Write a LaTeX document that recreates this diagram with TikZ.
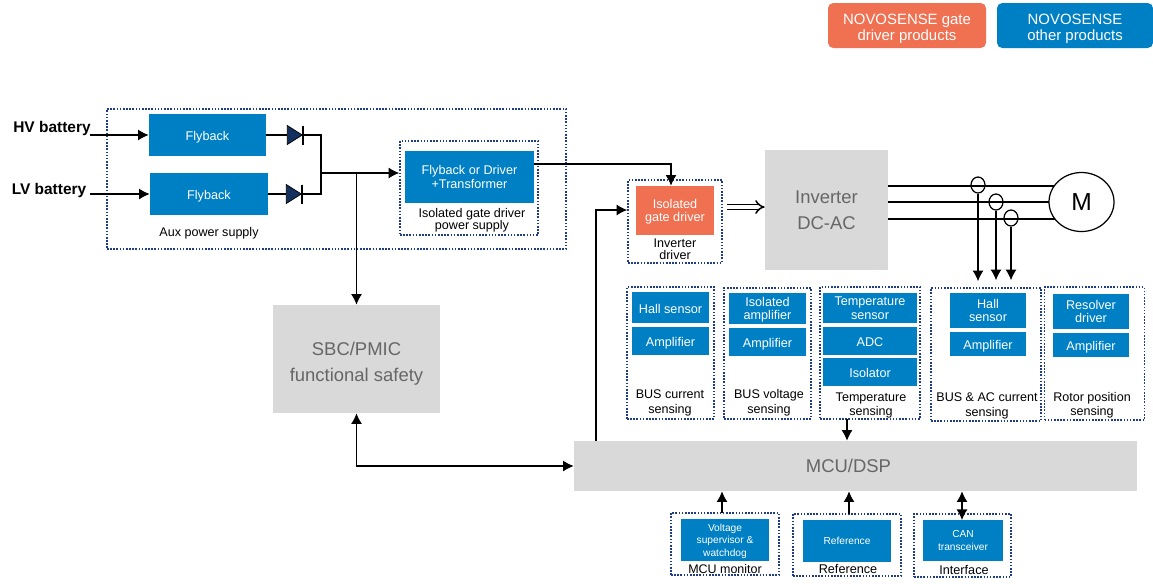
\documentclass[tikz,border=0pt]{standalone}
\usepackage{fontspec}
\setmainfont{Liberation Sans}
\usetikzlibrary{arrows.meta,positioning,shapes.geometric}

\begin{document}
\begin{tikzpicture}[x=0.02cm,y=-0.02cm,>={Latex[length=6pt,width=6.2pt]},every node/.append style={align=center,inner sep=0pt,text depth=0pt},wh/.style 2 args={minimum width=#1*0.02cm,minimum height=#2*0.02cm},wire/.style={line width=0.6pt},tiny/.style={fill=novoblue,text=white,font=\fontsize{5.8}{7.2}\selectfont},blk/.style={fill=novoblue,text=white,font=\fontsize{7.2}{7.8}\selectfont,execute at begin node={\rule{0pt}{6.4pt}}},drv/.style={fill=novoorange,text=white,font=\fontsize{7.2}{7.8}\selectfont},grp/.style={draw=novonavy,dash pattern=on 0.9pt off 0.9pt,line width=0.9pt},lbl/.style={font=\fontsize{7.15}{8.1}\selectfont},big/.style={fill=novogray,text=novotext,font=\fontsize{10.5}{14.8}\selectfont},legend/.style={rounded corners=3pt,text=white,font=\fontsize{8.5}{9.1}\selectfont,text height=17pt},diode/.style={isosceles triangle,isosceles triangle apex angle=60,isosceles triangle stretches,fill=novodark,draw=black,line width=0.4pt,minimum height=15*0.02cm,minimum width=19*0.02cm},ct/.style={ellipse,draw,line width=0.7pt,wh={14}{16}}]
    \definecolor{novoblue}{HTML}{0080C4}
    \definecolor{novoorange}{HTML}{F07052}
    \definecolor{novogray}{HTML}{D9D9D9}
    \definecolor{novonavy}{HTML}{1F3C88}
    \definecolor{novodark}{HTML}{14305F}
    \definecolor{novotext}{HTML}{666666}
    \useasboundingbox (0,0) rectangle (1153,583);

    \node [legend, fill=novoorange, wh={158}{45}] (legend1) at (907,25.5) {NOVOSENSE gate\\driver products};
    \node [legend, fill=novoblue, wh={156}{45}] (legend2) at (1075,25.5) {NOVOSENSE\\other products};

    \node [grp, wh={459}{140}] (auxbox) at (336.5,179) {};
    \node [grp, wh={138}{94}] (igdbox) at (469,188) {};
    \node [blk, wh={117}{42}] (fly1) at (207.5,135) {Flyback};
    \node [blk, wh={118}{42}] (fly2) at (209,194) {Flyback};
    \node [blk, wh={129}{52}] (fdt) at (469.5,177) {Flyback or Driver\\+Transformer};
    \node [lbl, font=\fontsize{7.15}{7}\selectfont] (igdlbl) at (472,219) {Isolated gate driver\\power supply};
    \node [lbl] (auxlbl) at (209,232) {Aux power supply};
    \node [font=\fontsize{8.8}{9}\selectfont\bfseries] (hv) at (52,127) {HV battery};
    \node [font=\fontsize{8.8}{9}\selectfont\bfseries] (lv) at (49,189) {LV battery};
    \node [diode] (d1) at (292.5,135) {};
    \node [diode] (d2) at (291.5,194) {};
    \coordinate (hvin) at (90,135);
    \coordinate (lvin) at (90,194);
    \coordinate (join) at (321,173);
    \coordinate (tap) at (356.5,173);
    \path[->, wire] (hvin) edge (fly1) (lvin) edge (fly2);
    \draw[wire] (fly1) -- (d1);
    \draw[wire] (fly2) -- (d2);
    \draw[wire, line width=0.9pt] (d1.apex) ++(0,-9.5) -- ++(0,19);
    \draw[wire, line width=0.9pt] (d2.apex) ++(0,-9.5) -- ++(0,19);
    \draw[wire] (d1.apex) -| (join);
    \draw[wire] (d2.apex) -| (join);
    \draw[->, wire] (join) -- (igdbox.west |- join);

    \node [big, wh={167}{108}, text height=26pt] (sbc) at (356.5,359) {SBC/PMIC\\functional safety};
    \node [big, wh={563}{50}] (mcu) at (855.5,466) {MCU/DSP\hspace{0.28cm}};
    \draw[->, wire] (tap) -- (sbc.north);
    \draw[<->, wire] (sbc.south) |- (mcu.west);

    \node [grp, wh={94}{83}] (gdbox) at (675,221.5) {};
    \node [drv, wh={78}{49}] (gd) at (675,210.5) {Isolated\\gate driver};
    \node [lbl, font=\fontsize{7.15}{6.6}\selectfont] (gdlbl) at (675,249) {Inverter\\driver};
    \coordinate (drvin) at (671,164);
    \coordinate (fb) at (596,210);
    \draw[->, wire] (fdt.east |- drvin) -- (drvin) -- (gd.north -| drvin);
    \draw[->, wire] (mcu.north -| fb) |- (gdbox.west |- fb);

    \node [big, wh={123}{120}] (inv) at (826.5,210) {Inverter\\DC-AC};
    \coordinate (open) at (727,207);
    \draw[double, double distance=1.8pt, line width=0.85pt, -{Implies}] (open) -- (inv.west |- open);

    \node [ct] (ct1) at (978,185) {};
    \node [ct] (ct2) at (996,202) {};
    \node [ct] (ct3) at (1011,218) {};
    \coordinate (ph1) at (1065,186);
    \coordinate (ph2) at (1065,202);
    \coordinate (ph3) at (1065,219);
    \draw[wire] (inv.east |- ph1) -- (ph1);
    \draw[wire] (inv.east |- ph2) -- (ph2);
    \draw[wire] (inv.east |- ph3) -- (ph3);
    \node [ellipse, draw, fill=white, line width=0.7pt, wh={65}{59}, font=\fontsize{14}{14}\selectfont] (motor) at (1081.5,202) {M};

    \node [grp, wh={87}{132}] (buscur) at (670.5,353) {};
    \node [blk, wh={77}{31}] (hall1) at (670.5,307.5) {Hall sensor};
    \node [blk, wh={77}{28}] (amp1) at (670.5,341) {Amplifier};
    \node [lbl] (buscurlbl) at (670,401.5) {BUS current\\sensing};

    \node [grp, wh={87}{131}] (busvol) at (767.5,353.5) {};
    \node [blk, wh={77}{31}] (iso) at (767.5,308.5) {Isolated\\amplifier};
    \node [blk, wh={77}{28}] (amp2) at (767.5,342) {Amplifier};
    \node [lbl] (busvollbl) at (769,401.5) {BUS voltage\\sensing};

    \node [grp, wh={100}{132}] (temp) at (870,353) {};
    \node [blk, wh={94}{30}] (tsen) at (870,308) {Temperature\\sensor};
    \node [blk, wh={94}{28}] (adc) at (870,341) {ADC};
    \node [blk, wh={94}{28}] (isol) at (870,372) {Isolator};
    \node [lbl] (templbl) at (871,404) {Temperature\\sensing};

    \node [grp, wh={110}{133}] (busac) at (986,354.5) {};
    \node [blk, wh={76}{35}] (hall2) at (988,310.5) {Hall\\sensor};
    \node [blk, wh={76}{24}] (amp3) at (988,344) {Amplifier};
    \node [lbl] (busaclbl) at (987,404.5) {BUS \& AC current\\sensing};

    \node [grp, wh={100}{133}] (rotor) at (1094.5,353.5) {};
    \node [blk, wh={76}{35}] (res) at (1091,311.5) {Resolver\\driver};
    \node [blk, wh={76}{24}] (amp4) at (1091,345) {Amplifier};
    \node [lbl] (rotorlbl) at (1092,404) {Rotor position\\sensing};

    \draw[->, wire, shorten >=0.12cm] (ct1.south) -- (ct1.south |- busac.north);
    \draw[->, wire, shorten >=0.14cm] (ct2.south) -- (ct2.south |- busac.north);
    \draw[->, wire, shorten >=0.14cm] (ct3.south) -- (ct3.south |- busac.north);
    \coordinate (tempout) at (847,419);
    \draw[->, wire] (tempout) -- (mcu.north -| tempout);

    \node [grp, wh={108}{62}] (mon) at (725,544) {};
    \node [tiny, wh={88}{42}] (vsw) at (725,540) {Voltage\\supervisor \&\\watchdog};
    \node [lbl, font=\fontsize{7.1}{8}\selectfont] (monlbl) at (725,569) {MCU monitor};

    \node [grp, wh={108}{62}] (ref) at (847,545) {};
    \node [tiny, wh={88}{42}] (refin) at (847,541) {Reference};
    \node [lbl, font=\fontsize{7.2}{8}\selectfont] (reflbl) at (848,569) {Reference};

    \node [grp, wh={97}{63}] (intf) at (962.5,545.5) {};
    \node [tiny, wh={80}{41}] (can) at (963,540.5) {CAN\\transceiver};
    \node [lbl, font=\fontsize{7.2}{8}\selectfont] (intflbl) at (964,570) {Interface};

    \coordinate (monout) at (722,513);
    \coordinate (refout) at (849,514);
    \coordinate (canout) at (962,520);
    \draw[->, wire] (monout) -- (mcu.south -| monout);
    \draw[->, wire] (refout) -- (mcu.south -| refout);
    \draw[<->, wire] (canout) -- (mcu.south -| canout);
\end{tikzpicture}
\end{document}
